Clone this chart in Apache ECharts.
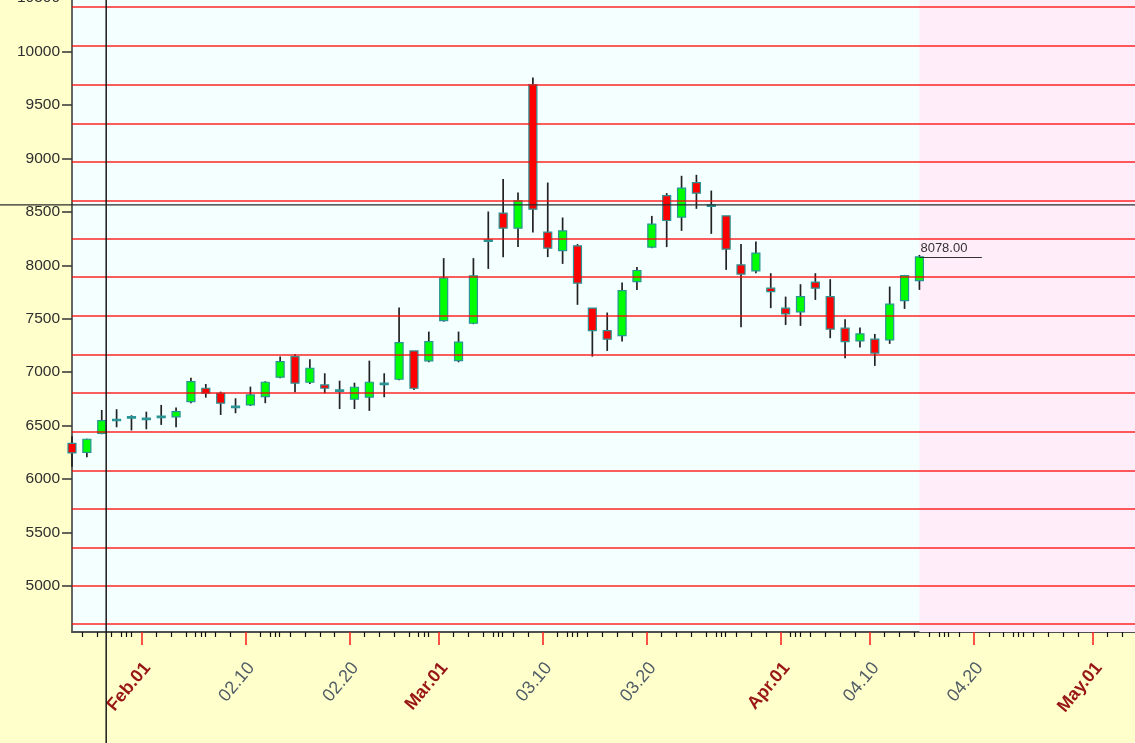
<!DOCTYPE html>
<html><head><meta charset="utf-8">
<script src="https://cdn.jsdelivr.net/npm/echarts@6.0.0/dist/echarts.min.js"></script>
<style>html,body{margin:0;padding:0;background:#FFFFCC;}#c{width:1135px;height:743px;}</style>
</head><body><div id="c"></div>
<script>
// ---- data ----
const tradeDates = [
 '2022-01-25','2022-01-26','2022-01-27','2022-01-28','2022-01-31',
 '2022-02-01','2022-02-02','2022-02-03','2022-02-04',
 '2022-02-07','2022-02-08','2022-02-09','2022-02-10','2022-02-11',
 '2022-02-14','2022-02-15','2022-02-16','2022-02-17','2022-02-18',
 '2022-02-21','2022-02-22','2022-02-23','2022-02-24','2022-02-25',
 '2022-02-28','2022-03-01','2022-03-02','2022-03-03','2022-03-04',
 '2022-03-07','2022-03-08','2022-03-09','2022-03-10','2022-03-11',
 '2022-03-14','2022-03-15','2022-03-16','2022-03-17','2022-03-18',
 '2022-03-21','2022-03-22','2022-03-23','2022-03-24','2022-03-25',
 '2022-03-28','2022-03-29','2022-03-30','2022-03-31','2022-04-01',
 '2022-04-04','2022-04-05','2022-04-06','2022-04-07','2022-04-08',
 '2022-04-11','2022-04-12','2022-04-13','2022-04-14'];
const openP  = [6335,6250,6427,6560,6584,6570,6590,6582,6725,6850,6803,6682,6694,6771,6953,7146,6906,6881,6834,6747,6766,6897,6934,7199,7106,7483,7108,7458,8238,8488,8347,9688,8310,8138,8182,7599,7389,7342,7848,8170,8652,8450,8774,8565,8462,8004,7948,7786,7599,7564,7842,7707,7412,7293,7309,7302,7670,7857];
const closeP = [6245,6373,6547,6560,6584,6570,6590,6631,6912,6803,6710,6682,6787,6906,7099,6897,7037,6850,6834,6859,6906,6897,7277,6850,7286,7879,7281,7901,8238,8347,8603,8525,8160,8322,7833,7389,7309,7763,7951,8385,8419,8722,8675,8565,8151,7917,8113,7754,7545,7707,7786,7402,7286,7358,7178,7636,7904,8078];
const lowP   = [6115,6205,6420,6485,6455,6466,6507,6485,6710,6762,6600,6616,6684,6710,6944,6813,6890,6803,6656,6656,6638,6766,6925,6834,7093,7473,7093,7449,7966,8076,8170,8306,8076,8013,7630,7146,7199,7286,7770,8160,8170,8322,8528,8294,7957,7421,7926,7599,7442,7433,7676,7318,7131,7230,7059,7265,7592,7770];
const highP  = [6400,6378,6647,6654,6597,6631,6694,6670,6949,6890,6818,6756,6865,6915,7146,7168,7122,6990,6921,6902,7108,6990,7604,7199,7380,8067,7380,8067,8503,8806,8680,9757,8774,8447,8198,7599,7558,7838,7983,8462,8675,8837,8846,8699,8462,8198,8222,7926,7707,7823,7926,7870,7496,7417,7358,7801,7910,8097];
const tickDates  = ['2022-02-01','2022-02-10','2022-02-20','2022-03-01','2022-03-10','2022-03-20','2022-04-01','2022-04-10','2022-04-20','2022-05-01'];
const tickLabels = ['Feb.01','02.10','02.20','Mar.01','03.10','03.20','Apr.01','04.10','04.20','May.01'];
const monthStart = [true,false,false,true,false,false,true,false,false,true];
const yTickValues = [5000,5500,6000,6500,7000,7500,8000,8500,9000,9500,10000,10500];
const levelLines = [4644,5003,5362,5721,6081,6439,6807,7167,7528,7889,8249,8605,8965,9326,9686,10051,10417];
const lastPriceText = '8078.00';
const crossIndex = 2.3;
const crossPrice = 8565;

// ---- build ----
const X_MAX = 71.5;
function addDays(s, n){ const d = new Date(s+'T00:00:00Z'); d.setUTCDate(d.getUTCDate()+n); return d.toISOString().slice(0,10); }
function dayDiff(a,b){ return Math.round((new Date(b+'T00:00:00Z') - new Date(a+'T00:00:00Z'))/86400000); }
const slots = tradeDates.slice();
while (slots.length < 80) {
  let d = slots[slots.length-1];
  do { d = addDays(d,1); } while ([0,6].includes(new Date(d+'T00:00:00Z').getUTCDay()));
  slots.push(d);
}
const majorPos = tickDates.map(td => slots.findIndex(d => d >= td) - 1/3);
const minorPos = [];
for (let s = 1; s < slots.length; s++) {
  const b = s - 1/3;
  if (b > X_MAX) break;
  const isMajor = majorPos.some(p => Math.abs(p-b) < 0.01);
  if (!isMajor) minorPos.push(b);
  if (dayDiff(slots[s-1], slots[s]) > 1 && !isMajor) { minorPos.push(b-0.35); minorPos.push(b+0.3); }
}
const labelShift = 0.4;
const labelPos = majorPos.map(p => p + labelShift);
const candles = openP.map((o,i) => [i, o, closeP[i], lowP[i], highP[i]]);
const lastIdx = candles.length - 1;

const chart = echarts.init(document.getElementById('c'));
const baseX = {type:'value', min:0, max:X_MAX, position:'bottom', splitLine:{show:false}, gridIndex:0};
const option = {
  backgroundColor:'#FFFFCC',
  animation:false,
  grid:{left:72, right:0, top:-2, bottom:111, show:true, backgroundColor:'#F4FFFF', borderWidth:0, containLabel:false, outerBoundsMode:'none'},
  xAxis:[
    Object.assign({}, baseX, {axisLine:{show:true, lineStyle:{color:'#505050', width:2}},
      axisTick:{show:true, customValues:minorPos, length:5, lineStyle:{color:'#111', width:1.2}}, axisLabel:{show:false}}),
    Object.assign({}, baseX, {axisLine:{show:false},
      axisTick:{show:true, customValues:majorPos, length:13, lineStyle:{color:'#ff1a1a', width:1.5}}, axisLabel:{show:false}}),
    Object.assign({}, baseX, {axisLine:{show:false}, axisTick:{show:false},
      axisLabel:{show:true, customValues:labelPos, rotate:50, margin:33,
        formatter: function(v){
          let k = 0, best = 1e9;
          labelPos.forEach((p,i)=>{ if (Math.abs(p-v) < best){best=Math.abs(p-v); k=i;} });
          return (monthStart[k] ? '{m|' : '{d|') + tickLabels[k] + '}';
        },
        rich:{
          m:{fontFamily:'Liberation Sans', fontSize:18, fontWeight:'bold', color:'#981616'},
          d:{fontFamily:'Liberation Sans', fontSize:18, color:'#505c66'}
        }}})
  ],
  yAxis:{type:'value', min:4570, max:10500, splitLine:{show:false},
    axisLine:{show:true, lineStyle:{color:'#333', width:1.5}},
    axisTick:{show:true, customValues:yTickValues, length:10, lineStyle:{color:'#333', width:1.5}},
    axisLabel:{customValues:yTickValues, fontSize:15.5, color:'#2e2e2e', margin:12, fontFamily:'Liberation Sans',
      formatter: v => String(v)}},
  series:[{
    type:'custom', clip:false, xAxisIndex:0, yAxisIndex:0,
    data: candles,
    encode:{x:0, y:[1,2,3,4]},
    renderItem: function(params, api){
      const x = api.value(0), o = api.value(1), c = api.value(2), l = api.value(3), h = api.value(4);
      const top = api.coord([x, Math.max(o,c)]), bot = api.coord([x, Math.min(o,c)]);
      const hi = api.coord([x,h]), lo = api.coord([x,l]);
      const bw = 8;
      const bh = Math.max(bot[1]-top[1], 1.5);
      const fill = c > o ? '#00ff00' : (c < o ? '#ff0000' : '#2a9090');
      return {type:'group', children:[
        {type:'line', shape:{x1:hi[0], y1:hi[1], x2:lo[0], y2:lo[1]}, style:{stroke:'#222', lineWidth:1.7}},
        {type:'rect', shape:{x:top[0]-bw/2, y:top[1], width:bw, height:bh}, style:{fill:fill, stroke:'#2a9494', lineWidth:1.2}}
      ]};
    },
    markArea:{silent:true, itemStyle:{color:'#FFEEFA'}, data:[[{xAxis:lastIdx},{xAxis:X_MAX}]]},
    markLine:{silent:true, symbol:['none','none'], animation:false,
      lineStyle:{color:'rgba(255,0,0,0.85)', width:1.5, type:'solid'}, label:{show:false},
      data: levelLines.map(v => ({yAxis:v})).concat([[
        {coord:[lastIdx, closeP[lastIdx]], lineStyle:{color:'#333', width:1, type:'solid'},
         label:{show:true, position:'insideStartTop', formatter:lastPriceText, color:'#333', fontSize:13, fontFamily:'Liberation Sans', distance:[1,2]}},
        {coord:[lastIdx+4.2, closeP[lastIdx]]}
      ]])
    }
  }]
};
chart.setOption(option);
const px = chart.convertToPixel({xAxisIndex:0}, crossIndex);
const py = chart.convertToPixel({yAxisIndex:0}, crossPrice);
chart.setOption({graphic:[
  {type:'line', silent:true, z:100, shape:{x1:px, y1:0, x2:px, y2:743}, style:{stroke:'#1a1a1a', lineWidth:1.5}},
  {type:'line', silent:true, z:100, shape:{x1:0, y1:py, x2:1135, y2:py}, style:{stroke:'#2a2a2a', lineWidth:1.2}}
]});
</script></body></html>
